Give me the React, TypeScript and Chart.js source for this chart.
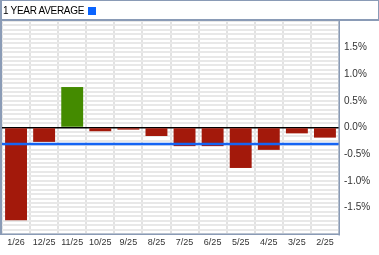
import React, { useEffect, useRef } from "react";
import { Chart, registerables } from "chart.js";

Chart.register(...registerables);

const categories = ["1/26", "12/25", "11/25", "10/25", "9/25", "8/25", "7/25", "6/25", "5/25", "4/25", "3/25", "2/25"];
const changes = [-1.74, -0.27, 0.76, -0.07, -0.04, -0.16, -0.35, -0.35, -0.76, -0.42, -0.11, -0.19];
const yearAverage = -0.31;
const yMin = -2;
const yMax = 2;
const gridStep = 1 / 12;
const labelLimit = 1.5;
const headerLabel = "1 YEAR AVERAGE";

const BORDER = "#8a9bb6";
const RED = "#a3190b";
const GREEN = "#448b00";
const BLUE = "#1464f4";

const framePlugin = {
  id: "frame",
  afterDatasetsDraw(chart: any) {
    const { ctx, chartArea, scales } = chart;
    const y = scales.y.getPixelForValue(yearAverage);
    ctx.save();
    ctx.strokeStyle = BLUE;
    ctx.lineWidth = 2.5;
    ctx.beginPath();
    ctx.moveTo(0, y);
    ctx.lineTo(chartArea.right, y);
    ctx.stroke();
    ctx.restore();
  },
  afterDraw(chart: any) {
    const { ctx, chartArea, width } = chart;
    ctx.save();
    ctx.fillStyle = BORDER;
    ctx.fillRect(0, 0, width, 1);
    ctx.fillRect(width - 1, 0, 1, chartArea.top);
    ctx.fillRect(0, 0, 2, chartArea.bottom + 1);
    ctx.fillRect(0, chartArea.top - 2, width, 2);
    ctx.fillRect(chartArea.right - 0.5, chartArea.top, 1.5, chartArea.bottom - chartArea.top + 1.5);
    ctx.fillRect(0, chartArea.bottom - 0.5, chartArea.right + 1, 1.5);
    ctx.restore();
  },
};

export default function App() {
  const ref = useRef<HTMLCanvasElement | null>(null);

  useEffect(() => {
    document.body.style.margin = "0";
    const canvas = ref.current;
    if (!canvas) return;
    const chart = new Chart(canvas, {
      type: "bar",
      data: {
        labels: categories,
        datasets: [
          {
            data: changes,
            backgroundColor: changes.map((v) => (v >= 0 ? GREEN : RED)),
            borderWidth: 0,
            barPercentage: 0.78,
            categoryPercentage: 1,
          },
        ],
      },
      options: {
        animation: false,
        responsive: false,
        maintainAspectRatio: false,
        devicePixelRatio: 1,
        layout: { padding: { top: 21, left: 2, right: 0, bottom: 0 } },
        plugins: { legend: { display: false }, tooltip: { enabled: false } },
        scales: {
          x: {
            offset: true,
            border: { display: false },
            grid: {
              offset: true,
              drawTicks: false,
              color: "#e2e2e2",
              lineWidth: 2,
            },
            ticks: {
              padding: 3,
              color: "#333333",
              font: { family: "'Liberation Sans', Arial, sans-serif", size: 9 },
              maxRotation: 0,
              autoSkip: false,
            },
            afterFit: (s: any) => {
              s.height = 21;
            },
          },
          y: {
            position: "right",
            min: yMin,
            max: yMax,
            border: { display: false },
            grid: {
              drawTicks: false,
              color: (c: any) => (Math.abs(c.tick.value) < 1e-9 ? "#000000" : "#e8e8e8"),
              lineWidth: (c: any) => (Math.abs(c.tick.value) < 1e-9 ? 1.5 : 2),
            },
            ticks: {
              stepSize: gridStep,
              autoSkip: false,
              padding: 5,
              color: "#333333",
              font: { family: "'Liberation Sans', Arial, sans-serif", size: 10 },
              callback: (v: any) => {
                const n = Number(v);
                if (Math.abs(n * 2 - Math.round(n * 2)) > 1e-6) return "";
                const r = Math.round(n * 2) / 2;
                if (Math.abs(r) > labelLimit + 1e-9) return "";
                return (Math.abs(r) < 1e-9 ? 0 : r).toFixed(1) + "%";
              },
            },
            afterFit: (s: any) => {
              s.width = 40;
            },
          },
        },
      },
      plugins: [framePlugin],
    });
    return () => chart.destroy();
  }, []);

  return (
    <div style={{ position: "relative", width: 379, height: 255, background: "#ffffff", overflow: "hidden" }}>
      <canvas ref={ref} width={379} height={255} style={{ position: "absolute", left: 0, top: 0, width: 379, height: 255 }} />
      <div
        style={{
          position: "absolute",
          left: 3,
          top: 1,
          height: 19,
          fontFamily: "'Liberation Sans', Arial, sans-serif",
          fontSize: 10,
          letterSpacing: "-0.3px",
          color: "#000000",
          whiteSpace: "nowrap",
          display: "flex",
          alignItems: "center",
        }}
      >
        <span>{headerLabel}</span>
        <span style={{ display: "inline-block", width: 8, height: 8, background: "#0a64ff", marginLeft: 4 }} />
      </div>
    </div>
  );
}
